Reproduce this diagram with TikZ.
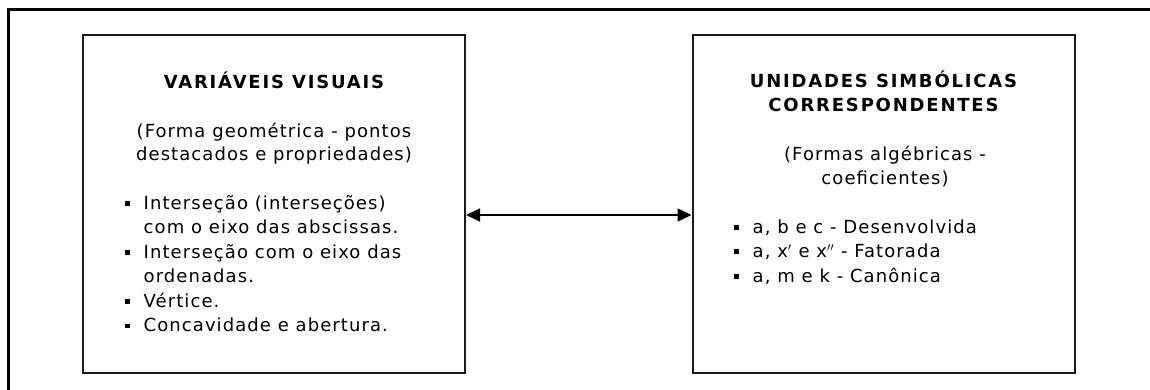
\documentclass[tikz,border=0pt]{standalone}
\usepackage{fontspec}
\setmainfont{DejaVu Sans}[LetterSpace=6]
\newfontfamily\titlefont{DejaVu Sans}[LetterSpace=10]
\usetikzlibrary{arrows.meta}
\tikzset{
    frame-box/.style = {draw=black!90, line width=2pt, rectangle, minimum width=382pt, minimum height=338pt, inner sep=0pt},
    box-title/.style = {font=\fontsize{18}{23.5}\selectfont\titlefont\bfseries, align=center, inner sep=0pt},
    box-text/.style = {font=\fontsize{18}{23.5}\selectfont, align=center, inner sep=0pt},
    box-list/.style = {font=\fontsize{18}{24.5}\selectfont, anchor=base west, inner sep=0pt},
    link-arrow/.style = {line width=1.5pt, {Triangle[length=14pt,width=13pt]}-{Triangle[length=14pt,width=13pt]}},
}
\newcommand{\sqbullet}{\rule[3.5pt]{4.5pt}{4.5pt}}

\begin{document}
\begin{tikzpicture}[x=1pt, y=-1pt]
\useasboundingbox (0,0) rectangle (1150,390);
\draw[line width=3pt] (8,390) -- (8,10) -- (1150,10);

% the two boxes
\node [frame-box] (visual) at (274,204) {};
\node [frame-box] (symbolic) at (883.5,204) {};

\node [box-title] (visual-title) at (274,80) {VARIÁVEIS VISUAIS};
\node [box-text] (visual-sub) at (274,143.5) {(Forma geométrica - pontos\\destacados e propriedades)};
\node [box-list] (visual-list) at (125,209) {\begin{tabular}[t]{@{}l@{\hspace{14pt}}l@{}}
    \sqbullet & Interseção (interseções)\\
              & com o eixo das abscissas.\\
    \sqbullet & Interseção com o eixo das\\
              & ordenadas.\\
    \sqbullet & Vértice.\\
    \sqbullet & Concavidade e abertura.
\end{tabular}};

\node [box-title] (symbolic-title) at (883.5,91.5) {UNIDADES SIMBÓLICAS\\CORRESPONDENTES};
\node [box-text] (symbolic-sub) at (885,166.5) {(Formas algébricas -\\coeficientes)};
\node [box-list] (symbolic-list) at (734,233) {\begin{tabular}[t]{@{}l@{\hspace{14pt}}l@{}}
    \sqbullet & a, b e c - Desenvolvida\\
    \sqbullet & a, x$'$ e x$''$ - Fatorada\\
    \sqbullet & a, m e k - Canônica
\end{tabular}};

\draw [link-arrow] ([yshift=-11pt]visual.east) -- ([yshift=-11pt]symbolic.west);
\end{tikzpicture}
\end{document}
